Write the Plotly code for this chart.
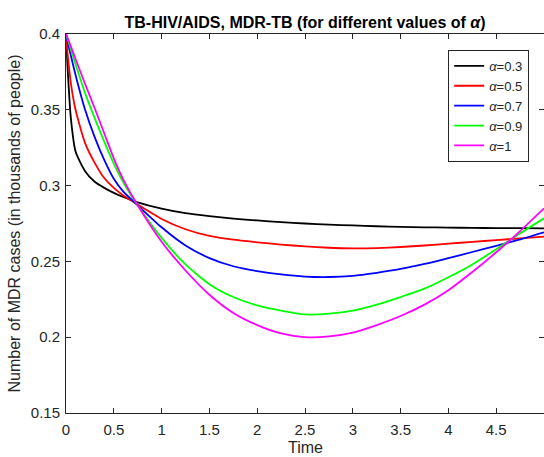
import plotly.graph_objects as go

time = [0, 0.01, 0.02, 0.05, 0.1, 0.2, 0.3, 0.4, 0.5, 0.6, 0.75, 1.0, 1.25, 1.5, 1.75,
        2.0, 2.25, 2.5, 2.75, 3.0, 3.25, 3.5, 3.75, 4.0, 4.25, 4.5, 4.75, 5.0]

mdr_a03 = [0.400, 0.386, 0.374, 0.345, 0.3225, 0.3095, 0.3025, 0.2985, 0.2952, 0.2925, 0.2890,
           0.2848, 0.2818, 0.2798, 0.2782, 0.2770, 0.2759, 0.2750, 0.2743, 0.2737, 0.2732,
           0.2728, 0.2725, 0.2723, 0.2721, 0.2720, 0.2719, 0.2718]
mdr_a05 = [0.400, 0.391, 0.385, 0.368, 0.350, 0.328, 0.315, 0.305, 0.2985, 0.2935, 0.2875,
           0.2780, 0.2712, 0.2668, 0.2643, 0.2626, 0.2611, 0.2599, 0.2590, 0.2586, 0.2588,
           0.2595, 0.2605, 0.2617, 0.2629, 0.2640, 0.2652, 0.2663]
mdr_a07 = [0.400, 0.397, 0.394, 0.386, 0.373, 0.350, 0.332, 0.317, 0.3045, 0.2960, 0.2870,
           0.2725, 0.2605, 0.2522, 0.2468, 0.2436, 0.2414, 0.2400, 0.2397, 0.2405, 0.2425,
           0.2450, 0.2483, 0.2522, 0.2562, 0.2602, 0.2645, 0.2692]
mdr_a09 = [0.400, 0.398, 0.396, 0.390, 0.380, 0.361, 0.3445, 0.329, 0.3145, 0.3020, 0.2870,
           0.2655, 0.2480, 0.2350, 0.2265, 0.2210, 0.2175, 0.2150, 0.2155, 0.2175, 0.2215,
           0.2265, 0.2320, 0.2395, 0.2480, 0.2580, 0.2685, 0.2784]
mdr_a10 = [0.400, 0.3985, 0.397, 0.392, 0.3835, 0.367, 0.351, 0.3345, 0.318, 0.304, 0.2870,
           0.2630, 0.2440, 0.2280, 0.2160, 0.2080, 0.2025, 0.2000, 0.2005, 0.2030, 0.2080,
           0.2140, 0.2215, 0.2310, 0.2430, 0.2560, 0.2700, 0.2850]

series_names = ["<i>α</i>=0.3", "<i>α</i>=0.5", "<i>α</i>=0.7", "<i>α</i>=0.9", "<i>α</i>=1"]
series_values = [mdr_a03, mdr_a05, mdr_a07, mdr_a09, mdr_a10]
series_colors = ["#000000", "#ff0000", "#0000ff", "#00ff00", "#ff00ff"]

x_tickvals = [0, 0.5, 1, 1.5, 2, 2.5, 3, 3.5, 4, 4.5, 5]
x_ticktext = ["0", "0.5", "1", "1.5", "2", "2.5", "3", "3.5", "4", "4.5", "5"]
y_tickvals = [0.15, 0.2, 0.25, 0.3, 0.35, 0.4]
y_ticktext = ["0.15", "0.2", "0.25", "0.3", "0.35", "0.4"]

fig = go.Figure()
for name, vals, col in zip(series_names, series_values, series_colors):
    fig.add_trace(go.Scatter(x=time, y=vals, mode="lines", name=name,
                             line=dict(color=col, width=1.8, shape="spline", smoothing=0.6)))

axis_col = "#262626"
font_family = "Liberation Sans, Arial, sans-serif"
H = 457
top_m, bot_m = 34, 44
plot_h = H - top_m - bot_m

fig.update_layout(
    width=544, height=H,
    margin=dict(l=66, r=0, t=top_m, b=bot_m),
    paper_bgcolor="white", plot_bgcolor="white",
    font=dict(family=font_family, size=15, color=axis_col),
    title=dict(text="<b>TB-HIV/AIDS, MDR-TB (for different values of <i>α</i>)</b>",
               x=0.5, xref="paper", xanchor="center",
               y=1 - 22 / H, yref="container", yanchor="middle",
               font=dict(size=16, color="#000000")),
    showlegend=True,
    legend=dict(x=0.969, y=0.958, xanchor="right", yanchor="top",
                bgcolor="white", bordercolor=axis_col, borderwidth=1,
                font=dict(size=13, color=axis_col), tracegroupgap=0,
                itemwidth=30),
    xaxis=dict(range=[0, 5], tickvals=x_tickvals, ticktext=x_ticktext,
               showgrid=False, zeroline=False, showline=True, linecolor=axis_col, linewidth=1,
               mirror="ticks", ticks="inside", ticklen=5, tickcolor=axis_col,
               ticklabelstandoff=3, tickfont=dict(size=15)),
    yaxis=dict(range=[0.15, 0.4], tickvals=y_tickvals, ticktext=y_ticktext,
               showgrid=False, zeroline=False, showline=True, linecolor=axis_col, linewidth=1,
               mirror="ticks", ticks="inside", ticklen=5, tickcolor=axis_col,
               ticklabelstandoff=2, tickfont=dict(size=15),
               title=dict(text="Number of MDR cases (in thousands of people)",
                          font=dict(size=16, color=axis_col), standoff=6)),
    annotations=[dict(text="Time", xref="paper", yref="paper", x=0.5,
                      y=1 - (447 - top_m) / plot_h, xanchor="center", yanchor="middle",
                      showarrow=False, font=dict(size=16, color=axis_col))],
)

fig.write_html("out.html")
